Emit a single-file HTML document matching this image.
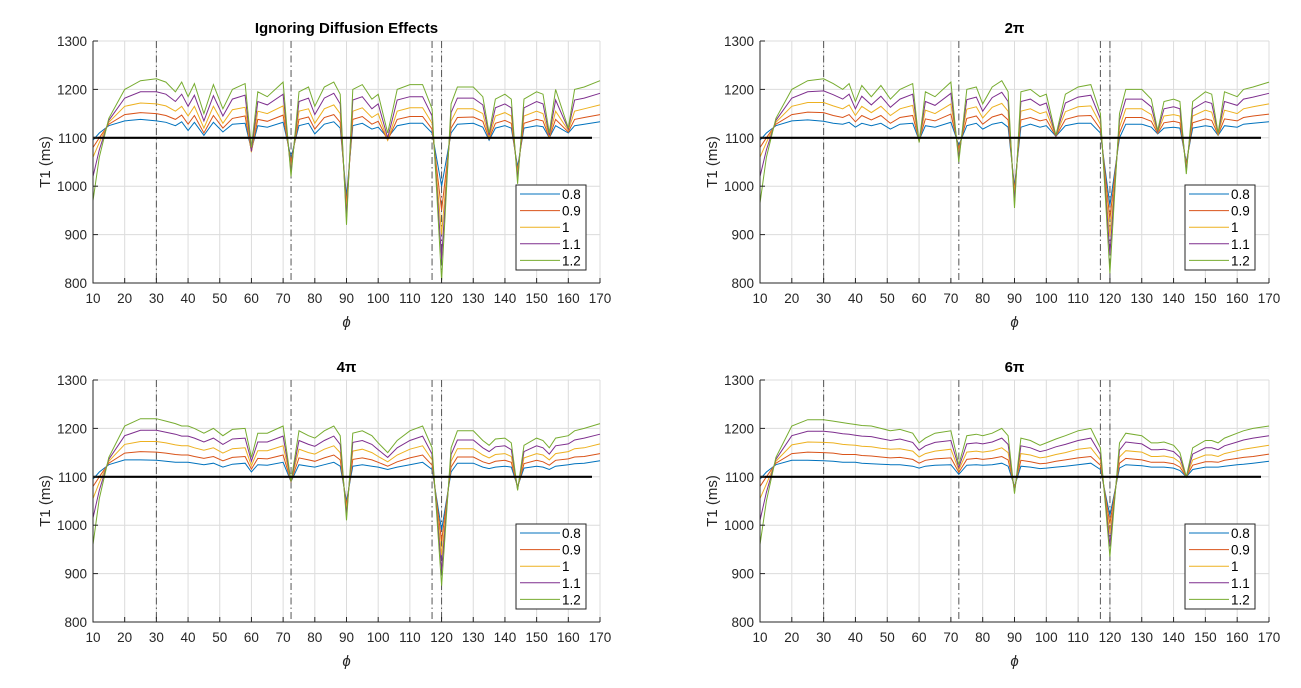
<!DOCTYPE html>
<html><head><meta charset="utf-8"><style>
body{margin:0;background:#fff;}
svg{display:block;font-family:"Liberation Sans",Arial,sans-serif;}
</style></head><body>
<svg id="fig" width="1301" height="688" viewBox="0 0 1301 688"></svg>
<script>
const phi=[10,12,15,20,25,30,33,36,38,40,42,45,48,51,54,58,60,62,65,70,72.5,75,78,80,83,86,88,90,92,95,98,100,103,106,110,114,117,120,123,125,130,133,135,137,140,142,144,146,150,152,154,156,160,162,165,170];
const seriesLabels=["0.8","0.9","1","1.1","1.2"];
const xTicks=[10,20,30,40,50,60,70,80,90,100,110,120,130,140,150,160,170];
const yTicks=[800,900,1000,1100,1200,1300];
const refLines=[30,72.5,117,120];
const refT1=[1100];
const panelTitles=["Ignoring Diffusion Effects","2\u03c0","4\u03c0","6\u03c0"];
// Panel 1
const p1s08=[1095,1110,1125,1135,1138,1135,1132,1125,1133,1115,1132,1105,1132,1112,1128,1130,1075,1125,1122,1132,1060,1125,1130,1108,1128,1133,1120,980,1125,1130,1118,1122,1100,1125,1130,1130,1110,1000,1110,1128,1130,1122,1095,1120,1125,1120,1040,1120,1125,1123,1100,1125,1110,1125,1128,1133];
const p1s09=[1080,1100,1128,1148,1152,1150,1146,1138,1147,1128,1146,1110,1146,1120,1140,1145,1072,1138,1134,1147,1050,1138,1143,1118,1142,1148,1132,965,1138,1144,1128,1134,1095,1138,1144,1144,1118,950,1120,1142,1143,1134,1098,1130,1136,1130,1032,1130,1138,1135,1100,1138,1112,1138,1142,1148];
const p1s10=[1060,1090,1132,1165,1172,1170,1166,1155,1165,1145,1165,1120,1165,1130,1158,1163,1070,1155,1150,1166,1040,1155,1160,1130,1160,1168,1150,950,1155,1162,1142,1150,1095,1155,1162,1162,1130,900,1135,1160,1160,1150,1100,1145,1152,1145,1025,1145,1155,1150,1102,1155,1115,1155,1160,1168];
const p1s11=[1020,1075,1136,1182,1195,1195,1190,1175,1190,1165,1188,1135,1187,1145,1180,1188,1072,1175,1168,1190,1030,1175,1182,1148,1182,1192,1170,935,1178,1185,1160,1170,1100,1178,1185,1185,1145,850,1152,1182,1182,1168,1105,1162,1170,1162,1015,1162,1175,1170,1105,1178,1118,1178,1182,1192];
const p1s12=[970,1060,1140,1200,1218,1222,1215,1195,1215,1185,1212,1150,1210,1160,1200,1212,1080,1195,1185,1215,1020,1195,1205,1165,1205,1215,1190,920,1200,1210,1180,1190,1110,1200,1210,1210,1160,805,1170,1205,1205,1185,1110,1180,1190,1180,1005,1180,1195,1190,1110,1200,1120,1200,1205,1218];
// Panel 2
const p2s08=[1095,1110,1125,1135,1137,1134,1130,1128,1132,1122,1130,1125,1130,1118,1128,1130,1095,1125,1122,1132,1085,1125,1130,1118,1128,1132,1122,1000,1122,1128,1122,1125,1103,1125,1130,1130,1110,960,1100,1128,1128,1122,1108,1120,1122,1120,1050,1120,1125,1123,1105,1125,1122,1128,1130,1133];
const p2s09=[1080,1100,1128,1148,1153,1152,1146,1142,1148,1133,1146,1137,1146,1130,1142,1146,1094,1139,1135,1149,1078,1140,1145,1128,1143,1149,1137,991,1137,1142,1135,1138,1103,1138,1145,1146,1118,932,1110,1142,1142,1134,1109,1131,1134,1131,1045,1131,1139,1136,1106,1139,1135,1142,1145,1149];
const p2s10=[1060,1090,1132,1165,1173,1173,1166,1160,1168,1146,1165,1152,1165,1146,1160,1167,1092,1157,1150,1170,1070,1159,1164,1141,1163,1171,1155,980,1155,1160,1150,1154,1104,1154,1164,1166,1128,897,1122,1160,1160,1148,1111,1145,1148,1145,1039,1145,1157,1153,1107,1157,1150,1160,1164,1170];
const p2s11=[1020,1075,1136,1182,1195,1197,1189,1180,1190,1160,1186,1168,1186,1163,1180,1190,1091,1175,1167,1192,1060,1179,1184,1155,1183,1194,1175,968,1175,1180,1167,1172,1104,1172,1184,1188,1139,859,1136,1180,1180,1164,1113,1160,1164,1160,1032,1160,1175,1171,1109,1175,1167,1180,1184,1192];
const p2s12=[965,1060,1140,1200,1218,1222,1212,1200,1212,1175,1208,1185,1208,1180,1200,1212,1090,1195,1185,1215,1050,1200,1205,1170,1205,1218,1195,955,1195,1200,1185,1190,1105,1190,1205,1210,1150,820,1150,1200,1200,1180,1115,1175,1180,1175,1025,1175,1195,1190,1110,1195,1185,1200,1205,1215];
// Panel 3
const p3s08=[1095,1110,1125,1135,1135,1134,1132,1130,1130,1130,1128,1125,1128,1120,1126,1128,1110,1125,1124,1130,1090,1125,1122,1120,1125,1130,1122,1050,1122,1125,1122,1120,1115,1120,1125,1130,1115,990,1110,1128,1128,1120,1117,1120,1122,1120,1080,1118,1122,1120,1115,1122,1125,1127,1128,1133];
const p3s09=[1080,1100,1128,1149,1152,1151,1149,1146,1145,1145,1142,1138,1142,1133,1140,1142,1116,1138,1137,1145,1090,1139,1135,1132,1139,1145,1135,1042,1136,1139,1135,1130,1122,1131,1139,1145,1124,967,1120,1141,1141,1131,1127,1132,1134,1130,1078,1127,1134,1131,1124,1134,1137,1141,1142,1148];
const p3s10=[1055,1088,1132,1167,1173,1173,1170,1166,1164,1164,1160,1155,1160,1149,1158,1160,1123,1154,1154,1164,1090,1157,1150,1147,1157,1164,1150,1032,1153,1157,1150,1142,1131,1145,1157,1164,1135,938,1132,1158,1158,1145,1139,1146,1148,1142,1076,1139,1148,1145,1135,1148,1152,1158,1160,1168];
const p3s11=[1015,1072,1136,1185,1196,1196,1192,1188,1184,1184,1180,1172,1180,1167,1178,1180,1132,1172,1172,1184,1090,1175,1167,1163,1175,1184,1167,1021,1171,1175,1167,1156,1140,1160,1175,1184,1147,907,1146,1176,1176,1160,1152,1162,1164,1156,1074,1152,1164,1160,1147,1164,1168,1176,1180,1188];
const p3s12=[960,1055,1140,1205,1220,1220,1215,1210,1205,1205,1200,1190,1200,1185,1198,1200,1140,1190,1190,1205,1090,1195,1185,1180,1195,1205,1185,1010,1190,1195,1185,1170,1150,1175,1195,1205,1160,875,1160,1195,1195,1175,1165,1178,1180,1170,1072,1165,1180,1175,1160,1180,1185,1195,1200,1210];
// Panel 4
const p4s08=[1095,1110,1125,1134,1134,1133,1132,1130,1130,1130,1128,1127,1126,1125,1125,1122,1118,1122,1124,1125,1105,1124,1125,1124,1125,1128,1122,1080,1122,1120,1117,1118,1120,1122,1125,1128,1115,1020,1118,1125,1123,1120,1120,1120,1118,1113,1100,1115,1120,1120,1120,1122,1125,1126,1128,1132];
const p4s09=[1080,1100,1128,1148,1151,1150,1149,1146,1146,1146,1144,1143,1141,1139,1140,1136,1128,1134,1137,1139,1109,1136,1138,1136,1138,1142,1135,1077,1134,1131,1127,1128,1132,1135,1139,1142,1124,1003,1128,1138,1135,1130,1130,1130,1127,1120,1100,1124,1131,1131,1130,1134,1138,1140,1142,1147];
const p4s10=[1055,1085,1132,1166,1172,1171,1170,1167,1166,1165,1163,1162,1159,1157,1158,1153,1141,1148,1153,1157,1114,1151,1153,1151,1154,1160,1150,1073,1148,1145,1139,1141,1146,1150,1157,1160,1135,982,1141,1154,1151,1142,1142,1143,1139,1130,1100,1135,1145,1145,1142,1148,1154,1157,1160,1165];
const p4s11=[1010,1068,1136,1185,1194,1194,1192,1189,1188,1186,1184,1183,1179,1175,1178,1171,1155,1164,1171,1175,1119,1168,1170,1168,1172,1180,1167,1069,1164,1160,1152,1155,1162,1167,1175,1180,1147,959,1155,1172,1168,1156,1156,1157,1152,1140,1100,1147,1160,1160,1156,1164,1172,1176,1180,1185];
const p4s12=[960,1050,1140,1205,1218,1218,1215,1212,1210,1208,1206,1205,1200,1195,1198,1190,1170,1180,1190,1195,1125,1185,1188,1185,1190,1200,1185,1065,1180,1175,1165,1170,1178,1185,1195,1200,1160,935,1170,1190,1185,1170,1170,1172,1165,1150,1100,1160,1175,1175,1170,1180,1190,1195,1200,1205];

const panelData=[[p1s08,p1s09,p1s10,p1s11,p1s12],[p2s08,p2s09,p2s10,p2s11,p2s12],[p3s08,p3s09,p3s10,p3s11,p3s12],[p4s08,p4s09,p4s10,p4s11,p4s12]];
const colors=["#0072BD","#D95319","#EDB120","#7E2F8E","#77AC30"];
const boxes=[{x0:93,x1:600,y0:41,y1:283},{x0:760,x1:1269,y0:41,y1:283},{x0:93,x1:600,y0:380,y1:622},{x0:760,x1:1269,y0:380,y1:622}];
const NS="http://www.w3.org/2000/svg";
const svg=document.getElementById('fig');
function mk(tag,attrs,parent){const e=document.createElementNS(NS,tag);for(const k in attrs)e.setAttribute(k,attrs[k]);(parent||svg).appendChild(e);return e;}

boxes.forEach((b,pi)=>{
  const xs=v=>b.x0+(v-10)/160*(b.x1-b.x0);
  const ys=v=>b.y1-(v-800)/500*(b.y1-b.y0);
  const g=mk('g',{});
  
  
  // grid
  xTicks.forEach(t=>{const l=mk('line',{x1:xs(t),x2:xs(t),y1:b.y0,y2:b.y1,stroke:'#dcdcdc','stroke-width':1},g);
    });
  yTicks.forEach(t=>{const l=mk('line',{x1:b.x0,x2:b.x1,y1:ys(t),y2:ys(t),stroke:'#dcdcdc','stroke-width':1},g);
    });
  // ref vertical lines
  refLines.forEach(r=>{const l=mk('line',{x1:xs(r),x2:xs(r),y1:b.y0,y2:b.y1,stroke:'#555','stroke-width':1,'stroke-dasharray':'7,3,1.5,3'},g);
    });
  // series
  panelData[pi].forEach((arr,si)=>{
    const pts=arr.map((v,i)=>xs(phi[i]).toFixed(1)+','+ys(v).toFixed(1)).join(' ');
    const p=mk('polyline',{points:pts,fill:'none',stroke:colors[si],'stroke-width':1},g);
    
    
  });
  refT1.forEach(r=>{const l=mk('line',{x1:b.x0,x2:b.x1-8,y1:ys(r),y2:ys(r),stroke:'#000','stroke-width':2.2},g);
    });
  // axes box
  const ax=mk('path',{d:`M${b.x0},${b.y0}V${b.y1}H${b.x1}`,fill:'none',stroke:'#262626','stroke-width':1},g);
  
  xTicks.forEach(t=>{mk('line',{x1:xs(t),x2:xs(t),y1:b.y1,y2:b.y1-5,stroke:'#262626'},g);
    const tx=mk('text',{x:xs(t),y:b.y1+20,'text-anchor':'middle','font-size':13.5,fill:'#262626'},g);tx.textContent=t;
    });
  yTicks.forEach(t=>{mk('line',{x1:b.x0,x2:b.x0+5,y1:ys(t),y2:ys(t),stroke:'#262626'},g);
    const tx=mk('text',{x:b.x0-6,y:ys(t)+5,'text-anchor':'end','font-size':13.5,fill:'#262626'},g);tx.textContent=t;
    });
  const xl=mk('text',{x:(b.x0+b.x1)/2,y:b.y1+44,'text-anchor':'middle','font-size':15,'font-style':'italic',fill:'#262626'},g);xl.textContent='\u03d5';
  
  const yl=mk('text',{x:0,y:0,'text-anchor':'middle','font-size':15,fill:'#262626',transform:`translate(${b.x0-43},${(b.y0+b.y1)/2}) rotate(-90)`},g);yl.textContent='T1 (ms)';
  
  const tt=mk('text',{x:(b.x0+b.x1)/2,y:b.y0-8,'text-anchor':'middle','font-size':15,'font-weight':'bold',fill:'#000'},g);tt.textContent=panelTitles[pi];
  
  // legend
  const lx=b.x1-84, ly=b.y1-98;
  const lg=mk('g',{},g);
  
  mk('rect',{x:lx,y:ly,width:70,height:85,fill:'#fff',stroke:'#262626','stroke-width':1},lg);
  seriesLabels.forEach((s,si)=>{
    const yy=ly+9+si*16.6;
    const en=mk('g',{},lg);
    
    mk('line',{x1:lx+4,x2:lx+44,y1:yy,y2:yy,stroke:colors[si],'stroke-width':1},en);
    const t=mk('text',{x:lx+46,y:yy+5,'font-size':13.5,fill:'#000'},en);t.textContent=s;
  });
});
</script>
</body></html>
